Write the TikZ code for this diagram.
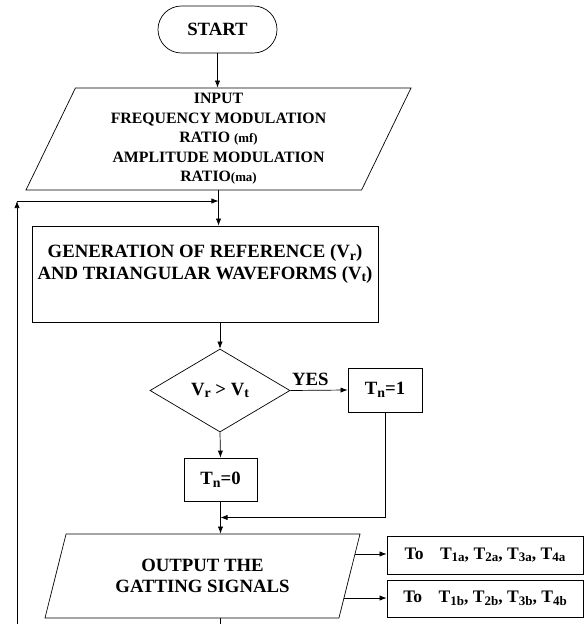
\documentclass[tikz,border=0pt]{standalone}
\usepackage{fontspec}
\usepackage{graphicx}
\setmainfont{Liberation Serif}
\usetikzlibrary{arrows.meta,shapes.geometric,calc}

\newcommand\fsbig{\bfseries\fontsize{16}{18.5}\selectfont}
\newcommand\fsin{\bfseries\fontsize{13.5}{16.6}\selectfont}
\newcommand\fssub{\bfseries\fontsize{11}{13}\selectfont}
\newcommand\fsmid{\bfseries\fontsize{15}{17}\selectfont}
\newcommand\lowsub[1]{\raisebox{-0.3ex}{\scalebox{0.74}{#1}}}

\begin{document}
\begin{tikzpicture}[>={Latex[length=6pt,width=4.5pt]},x=0.03cm,y=-0.03cm,line width=0.6pt,
  termbox/.style={draw,rectangle,rounded corners=20pt,minimum width=3.57cm,minimum height=1.41cm,font=\fsbig},
  procbox/.style={draw,rectangle,align=center,font=\fsbig},
  iobox/.style={draw,trapezium,trapezium left angle=63.4,trapezium right angle=116.6,
    trapezium stretches body,align=center},
  decbox/.style={draw,diamond,inner sep=0pt,minimum width=4.2cm,minimum height=2.49cm,font=\fsbig},
  sigbox/.style={draw,rectangle,minimum width=5.88cm,font=\fsmid}]
\useasboundingbox (0,0) rectangle (585,624);

\node[termbox] (start) at (217.5,29.5) {START};
\node[iobox,minimum width=11.55cm,minimum height=3.06cm,font=\fsin] (inp) at (218.5,139)
  {INPUT\\FREQUENCY MODULATION\\RATIO {\fssub(mf)}\\AMPLITUDE MODULATION\\RATIO{\fssub(ma)}};
\node[procbox,minimum width=10.38cm,minimum height=2.88cm] (gen) at (205,274)
  {GENERATION OF REFERENCE (V\lowsub{r})\\AND TRIANGULAR WAVEFORMS (V\lowsub{t})\\\rule{0pt}{16pt}};
\node[decbox] (dec) at (220,390.5) {V\lowsub{r} > V\lowsub{t}};
\node[procbox,minimum width=2.22cm,minimum height=1.32cm] (tn1) at (385,390) {T\lowsub{n}=1};
\node[procbox,minimum width=2.19cm,minimum height=1.29cm] (tn0) at (220.5,479.5) {T\lowsub{n}=0};
\node[iobox,minimum width=9.45cm,minimum height=2.52cm,font=\fsbig] (out) at (202.5,576)
  {OUTPUT THE\\GATTING SIGNALS};
\node[sigbox,minimum height=1.14cm] (siga) at (485,555)
  {To\hspace{14pt}T\lowsub{1a}, T\lowsub{2a}, T\lowsub{3a}, T\lowsub{4a}};
\node[sigbox,minimum height=1.11cm] (sigb) at (485,598.5)
  {To\hspace{14pt}T\lowsub{1b}, T\lowsub{2b}, T\lowsub{3b}, T\lowsub{4b}};

\coordinate (loop) at (17,201);
\coordinate (merge) at ($(tn0.south)!0.5!(tn0.south |- out.north)$);

\draw[->] (start.south) -- (start.south |- inp.north);
\draw[->] (inp.south) -- (inp.south |- gen.north);
\draw[->] (loop) -- (loop -| inp.south);
\draw[->] (dec.north |- gen.south) -- (dec.north);
\draw[->] (dec.east) -- node[above,pos=0.35,font=\fsbig] {YES} (tn1.west);
\draw[->] (dec.south) -- (tn0.north);
\draw[->] (tn0.south) -- (tn0.south |- out.north);
\draw[->] (tn1.south) |- (merge);
\draw[->] ($(out.top right corner)!0.24!(out.bottom right corner)$) coordinate (oa) -- (oa -| siga.west);
\draw[->] ($(out.top right corner)!0.76!(out.bottom right corner)$) coordinate (ob) -- (ob -| sigb.west);
\draw[->] (tn0.south |- out.south) -- ++(0,14) -| (loop);
\end{tikzpicture}
\end{document}
